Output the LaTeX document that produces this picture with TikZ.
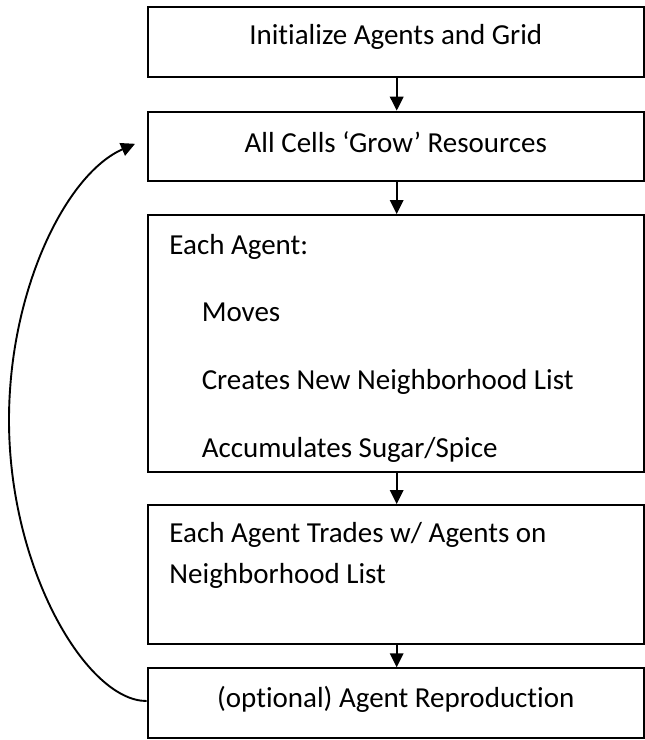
\documentclass[tikz,border=0pt]{standalone}
\usepackage{fontspec}
\setmainfont{Carlito}[Ligatures=CommonOff]
\usetikzlibrary{arrows.meta,calc}
\begin{document}
\begin{tikzpicture}[x=1pt,y=-1pt,
  box/.style={draw,line width=2pt,rectangle,inner sep=0pt,minimum width=496.5pt},
  lbl/.style={inner sep=0pt,font=\fontsize{29}{35}\selectfont},
  flow/.style={line width=1.9pt,-{Triangle[length=14pt,width=13.5pt]}}]
\useasboundingbox (0,0) rectangle (645,740);
% boxes
\node[box,minimum height=70pt]    (b1) at (395.8,42.3)  {};
\node[box,minimum height=69.3pt]  (b2) at (395.8,146.3) {};
\node[box,minimum height=256.7pt] (b3) at (395.8,343.4) {};
\node[box,minimum height=139pt]   (b4) at (395.8,574.5) {};
\node[box,minimum height=70pt]    (b5) at (395.8,703.3) {};
% texts
\node[lbl,anchor=base] (t1) at ($(b1.north)+(0,37.7)$) {Initialize Agents and Grid};
\node[lbl,anchor=base] (t2) at ($(b2.north)+(0,41.6)$) {All Cells ‘Grow’ Resources};
\node[lbl,anchor=base west] (t3a) at ($(b3.north west)+(22.7,40)$) {Each Agent:};
\node[lbl,anchor=base west] (t3b) at ($(b3.north west)+(55,107)$) {Moves};
\node[lbl,anchor=base west] (t3c) at ($(b3.north west)+(55,175)$) {Creates New Neighborhood List};
\node[lbl,anchor=base west] (t3d) at ($(b3.north west)+(55,243)$) {Accumulates Sugar/Spice};
\node[lbl,anchor=base west] (t4a) at ($(b4.north west)+(22.7,38.3)$) {Each Agent Trades w/ Agents on};
\node[lbl,anchor=base west] (t4b) at ($(b4.north west)+(22.7,79)$) {Neighborhood List};
\node[lbl,anchor=base] (t5) at ($(b5.north)+(0,39.7)$) {(optional) Agent Reproduction};
% connectors
\draw[flow] ($(b1.south)+(0.9,0)$) -- ($(b2.north)+(0.9,0)$);
\draw[flow] ($(b2.south)+(0.9,0)$) -- ($(b3.north)+(0.9,0)$);
\draw[flow] ($(b3.south)+(0.9,0)$) -- ($(b4.north)+(0.9,0)$);
\draw[flow] ($(b4.south)+(0.9,0)$) -- ($(b5.north)+(0.9,0)$);
\coordinate (tip) at ($(b2.west)+(-11.5,-2.5)$);
\coordinate (far) at (9,420);
\draw[flow] ($(b5.west)+(0,-2.3)$) .. controls (87,701) and (9,570) .. (far)
  .. controls (9,290) and (66,174) .. (tip);
\end{tikzpicture}
\end{document}
